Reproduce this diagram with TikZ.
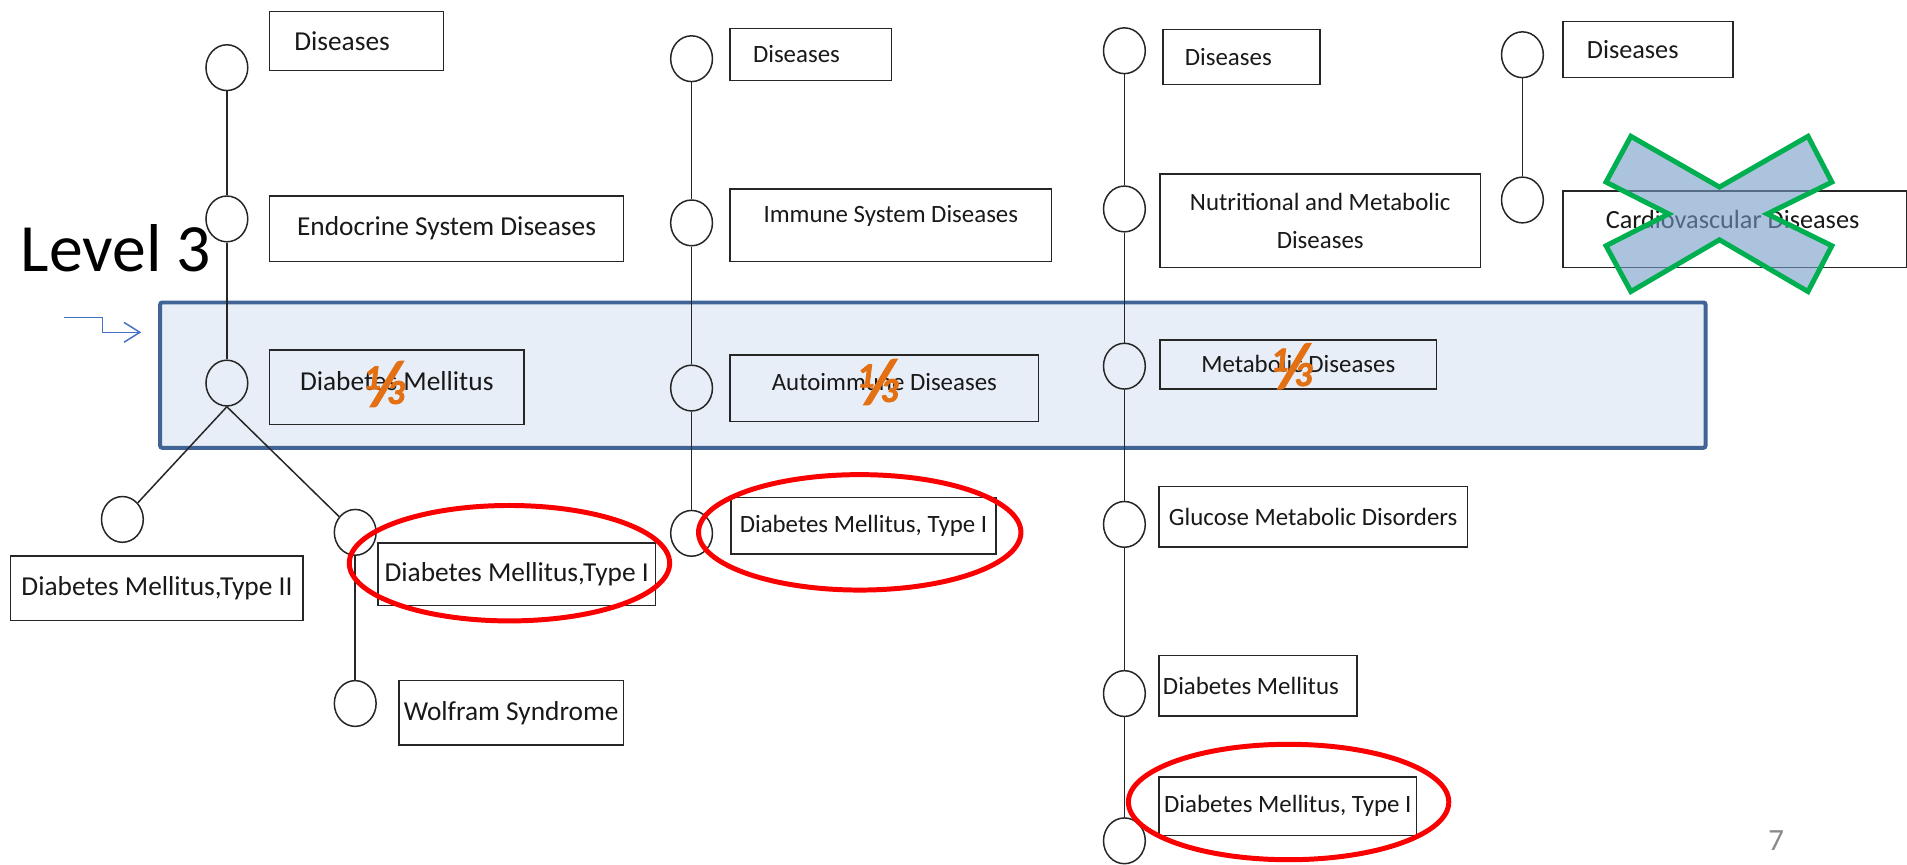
\documentclass[tikz,border=0pt]{standalone}
\usepackage{fontspec}
\setmainfont{Carlito}
\newfontfamily\thirdfont[FakeBold=2.5]{Carlito}
\usetikzlibrary{arrows.meta,calc,positioning,shapes.geometric}
\definecolor{BandBlue}{RGB}{232,238,247}
\definecolor{BandEdge}{RGB}{65,100,150}
\definecolor{ArrowBlue}{RGB}{68,114,196}
\definecolor{RingRed}{RGB}{250,0,0}
\definecolor{CrossGreen}{RGB}{0,176,80}
\definecolor{CrossFill}{RGB}{117,155,200}
\definecolor{ThirdOrange}{RGB}{228,112,20}
\definecolor{PageGray}{RGB}{137,137,137}
\newcommand{\onethird}{{\thirdfont\bfseries\itshape\fontsize{35}{35}\selectfont\raisebox{0.42em}{1}\kern-0.22em{\fontsize{62}{62}\selectfont/}\kern-0.38em 3}}

\begin{document}
\begin{tikzpicture}[x=1pt,y=-1pt,line width=1.5pt,
  box/.style={draw=black!85,anchor=north west,inner sep=0pt,text=black!90},
  big/.style={font=\fontsize{27.5}{33}\selectfont},
  small/.style={font=\fontsize{25}{30}\selectfont},
  knot/.style={draw=black!85,ellipse,minimum width=42pt,minimum height=46pt,inner sep=0pt},
  third/.style={text=ThirdOrange,inner sep=0pt},
  ring/.style={draw=RingRed,line width=5pt}]
\fill[white] (0,0) rectangle (1907,865);
% level 3 band
\node[draw=BandEdge,fill=BandBlue,line width=4pt,rounded corners=2pt,anchor=north west,minimum width=1553pt,minimum height=146pt] (band) at (159,302) {};
% tree nodes
\node[knot] (c11) at (228,68) {};\node[knot] (c12) at (228,220) {};\node[knot] (c13) at (228,385) {};
\node[knot] (c14) at (123,522) {};\node[knot] (c15) at (357,535) {};\node[knot] (c16) at (357,707) {};
\node[knot] (c21) at (695,59) {};\node[knot] (c22) at (695,224) {};\node[knot] (c23) at (695,390) {};\node[knot] (c24) at (695,536) {};
\node[knot] (c31) at (1130,51) {};\node[knot] (c32) at (1130,210) {};\node[knot] (c33) at (1130,368) {};
\node[knot] (c34) at (1130,527) {};\node[knot] (c35) at (1130,697) {};\node[knot] (c36) at (1130,845) {};
\node[knot] (c41) at (1530,55) {};\node[knot] (c42) at (1530,201) {};
\draw[black!85] (c11)--(c12)--(c13);\draw[black!85] (c13.south)--(c14);\draw[black!85] (c13.south)--(c15);\draw[black!85] (c15)--(c16);
\draw[black!85] (c21)--(c22)--(c23)--(c24);
\draw[black!85] (c31)--(c32)--(c33)--(c34)--(c35)--(c36);
\draw[black!85] (c41)--(c42);
% labels
\node[box,big,text width=125pt,inner xsep=25pt,align=flush left,minimum height=59pt] (b11) at (270,11) {Diseases};
\node[box,big,minimum width=356pt,minimum height=66pt] (b12) at (270,196) {Endocrine System Diseases};
\node[box,big,minimum width=256pt,minimum height=75pt,text depth=12pt] (b13) at (270,351) {Diabetes Mellitus};
\node[box,big,minimum width=294pt,minimum height=65pt] (b14) at (10,558) {Diabetes Mellitus,Type II};
\node[box,big,minimum width=279pt,minimum height=63pt] (b15) at (379,545) {Diabetes Mellitus,Type I};
\node[box,big,minimum width=226pt,minimum height=65pt] (b16) at (400,683) {Wolfram Syndrome};
\node[box,small,text width=116pt,inner xsep=23pt,align=flush left,minimum height=52pt] (b21) at (733,28) {Diseases};
\node[box,small,minimum width=323pt,minimum height=73pt,text depth=22pt] (b22) at (733,189) {Immune System Diseases};
\node[box,small,minimum width=310pt,minimum height=67pt,text depth=13pt] (b23) at (733,356) {Autoimmune Diseases};
\node[box,small,minimum width=266pt,minimum height=57pt] (b24) at (734,499) {Diabetes Mellitus, Type I};
\node[box,small,text width=114pt,inner xsep=22pt,align=flush left,minimum height=55pt] (b31) at (1168,29) {Diseases};
\node[box,font=\fontsize{25}{38}\selectfont,align=center,minimum width=322pt,minimum height=94pt] (b32) at (1165,174) {Nutritional and Metabolic\\Diseases};
\node[box,small,minimum width=278pt,minimum height=49pt] (b33) at (1165,341) {Metabolic Diseases};
\node[box,small,minimum width=310pt,minimum height=61pt] (b34) at (1164,488) {Glucose Metabolic Disorders};
\node[box,small,text width=191pt,inner xsep=4pt,align=flush left,minimum height=61pt] (b35) at (1164,658) {Diabetes Mellitus};
\node[box,small,minimum width=259pt,minimum height=59pt] (b36) at (1164,780) {Diabetes Mellitus, Type I};
\node[box,font=\fontsize{26.4}{32}\selectfont,text width=123pt,inner xsep=24pt,align=flush left,minimum height=56pt] (b41) at (1570,21) {Diseases};
\node[box,font=\fontsize{26.4}{32}\selectfont,text width=259pt,inner xsep=43pt,align=flush left,minimum height=77pt,text depth=20pt] (b42) at (1570,191) {Cardiovascular Diseases};
% one third marks
\node[third] (t1) at (386,386) {\onethird};
\node[third] (t2) at (882,384) {\onethird};
\node[third] (t3) at (1298,368) {\onethird};
% red rings
\draw[ring] (512,566) ellipse [x radius=161,y radius=58];
\draw[ring] (864,535) ellipse [x radius=162,y radius=58];
\draw[ring] (1295,806) ellipse [x radius=161,y radius=58];
% cross
\filldraw[draw=CrossGreen,line width=5pt,fill=CrossFill,fill opacity=0.6] (1639,137)--(1728,188)--(1817,137)--(1841,183)--(1776,215)--(1841,247)--(1817,293)--(1728,241)--(1639,293)--(1614,247)--(1677,215)--(1614,183)--cycle;
% level label and arrow
\node[anchor=base west,inner sep=0pt,font=\fontsize{68}{68}\selectfont] (lvl) at (20,273) {Level 3};
\coordinate (a0) at (64,319);\coordinate (a1) at (142,334);
\draw[ArrowBlue,line width=1.5pt,-{Straight Barb[length=16pt,width=20pt]}] (a0)--++(39,0)|-(a1);
\node[anchor=base,inner sep=0pt,text=PageGray,font=\fontsize{31}{31}\selectfont] (pg) at (1785,855) {7};
\end{tikzpicture}
\end{document}
